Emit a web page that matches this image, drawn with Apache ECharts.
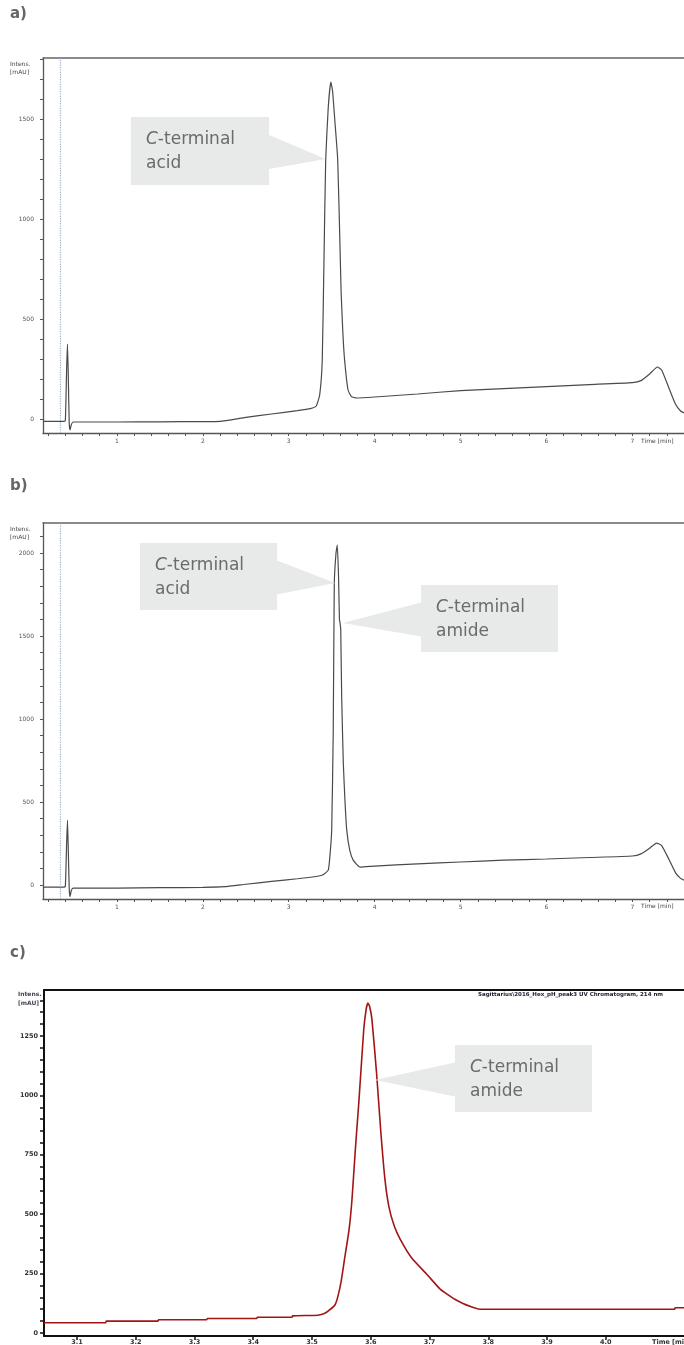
<!DOCTYPE html>
<html>
<head>
<meta charset="utf-8">
<script src="https://cdn.jsdelivr.net/npm/echarts@6/dist/echarts.min.js"></script>
<style>
html, body { margin: 0; padding: 0; background: #fff; }
#chart { width: 684px; height: 1345px; }
</style>
</head>
<body>
<div id="chart"></div>
<script>
// chromatogram a) [time min, intensity]
const traceA = [
    [0.14, -12], [0.38, -12], [0.40, -8], [0.415, 250], [0.425, 375], [0.435, 200], [0.445, -20],
    [0.455, -55], [0.47, -28], [0.49, -15], [1.0, -15], [1.5, -14], [2.0, -13], [2.2, -12],
    [2.5, 8], [2.8, 25], [3.1, 42], [3.25, 52], [3.32, 65], [3.36, 120], [3.39, 295], [3.41, 795],
    [3.43, 1295], [3.46, 1560], [3.49, 1685], [3.51, 1640], [3.535, 1500], [3.57, 1295], [3.60, 800],
    [3.61, 630], [3.63, 430], [3.65, 295], [3.69, 145], [3.73, 112], [3.79, 105], [4.0, 110],
    [4.5, 125], [5.0, 142], [5.5, 152], [6.0, 162], [6.5, 172], [7.0, 182], [7.1, 192], [7.2, 225],
    [7.29, 260], [7.34, 245], [7.42, 160], [7.5, 75], [7.56, 40], [7.6, 30]
]
// chromatogram b)
const traceB = [
    [0.14, -12], [0.38, -12], [0.40, -8], [0.415, 250], [0.425, 390], [0.435, 200], [0.445, -20],
    [0.455, -70], [0.47, -32], [0.49, -18], [1.0, -18], [1.5, -16], [2.0, -14], [2.25, -10],
    [2.5, 5], [2.8, 22], [3.1, 38], [3.3, 50], [3.40, 62], [3.46, 90], [3.48, 180], [3.50, 331],
    [3.518, 934], [3.53, 1817], [3.55, 2000], [3.565, 2048], [3.58, 1850], [3.59, 1600], [3.597, 1580],
    [3.605, 1540], [3.616, 1134], [3.635, 735], [3.655, 500], [3.675, 331], [3.71, 210], [3.75, 150],
    [3.83, 108], [4.0, 114], [4.5, 128], [5.0, 139], [5.5, 150], [6.0, 157], [6.5, 166], [7.0, 175],
    [7.1, 188], [7.2, 222], [7.28, 253], [7.34, 238], [7.42, 160], [7.5, 75], [7.56, 40], [7.6, 30]
]
// chromatogram c) zoom on the main peak
const traceC = [
    [3.044, 43], [3.149, 43], [3.150, 50], [3.238, 50], [3.239, 56], [3.321, 56], [3.322, 61],
    [3.406, 61], [3.407, 66], [3.466, 66], [3.467, 72], [3.51, 75], [3.522, 83], [3.530, 97],
    [3.539, 118], [3.544, 153], [3.550, 223], [3.556, 321], [3.563, 433], [3.568, 560], [3.574, 780],
    [3.580, 981], [3.588, 1275], [3.592, 1360], [3.595, 1389], [3.598, 1375], [3.602, 1320],
    [3.610, 1090], [3.617, 850], [3.624, 650], [3.631, 530], [3.640, 450], [3.650, 395], [3.669, 318],
    [3.698, 240], [3.718, 185], [3.746, 138], [3.771, 110], [3.786, 100], [4.117, 100], [4.118, 106],
    [4.133, 106]
]
const injectionTime = 0.34
const xLabelsAB = [1, 2, 3, 4, 5, 6, 7]
const yLabelsA = [0, 500, 1000, 1500]
const yLabelsB = [0, 500, 1000, 1500, 2000]
const xLabelsC = [3.1, 3.2, 3.3, 3.4, 3.5, 3.6, 3.7, 3.8, 3.9, 4.0]
const yLabelsC = [0, 250, 500, 750, 1000, 1250]
// where each callout points to: [grid, time, intensity]
const calloutAnchors = [[0, 3.43, 1300], [1, 3.54, 1819], [1, 3.63, 1578], [2, 3.607, 1065]]
const calloutWords = ['acid', 'acid', 'amide', 'amide']

function steps(from, to, step) {
    const out = []
    for (let v = from; v <= to + 1e-9; v += step) out.push(Math.round(v * 1000) / 1000)
    return out
}

const chart = echarts.init(document.getElementById('chart'), null, { renderer: 'canvas' })

const grayAxis = { show: true, onZero: false, lineStyle: { color: '#555', width: 1.3 } }
const smallLabel = { fontSize: 6, color: '#555', fontFamily: 'DejaVu Sans', formatter: v => String(v) }

function abAxes(gi, ymin, ymax, ylabels, ytop) {
    return {
        x: [{
            type: 'value', gridIndex: gi, min: 0.14, max: 7.6,
            axisLine: grayAxis, splitLine: { show: false },
            axisTick: { show: true, length: 3, customValues: steps(0.2, 7.4, 0.2), lineStyle: { color: '#555' } },
            axisLabel: Object.assign({ customValues: xLabelsAB, margin: 5 }, smallLabel),
        }, {
            type: 'value', gridIndex: gi, position: 'top', min: 0.14, max: 7.6,
            axisLine: { show: true, onZero: false, lineStyle: { color: '#666', width: 1.5 } },
            axisTick: { show: false }, axisLabel: { show: false }, splitLine: { show: false },
        }],
        y: {
            type: 'value', gridIndex: gi, min: ymin, max: ymax,
            axisLine: grayAxis, splitLine: { show: false },
            axisTick: { show: true, length: 3, customValues: steps(0, ytop, 100), lineStyle: { color: '#555' } },
            axisLabel: Object.assign({ customValues: ylabels, margin: 9 }, smallLabel),
        },
    }
}
const axA = abAxes(0, -70, 1805, yLabelsA, 1800)
const axB = abAxes(1, -84, 2181, yLabelsB, 2100)

const blackAxis = { show: true, onZero: false, lineStyle: { color: '#111', width: 2 } }
const cLabel = { fontSize: 6.5, color: '#333', fontFamily: 'DejaVu Sans', fontWeight: 'bold' }

const injectLine = {
    symbol: 'none', silent: true, label: { show: false },
    lineStyle: { color: '#9fb0c8', type: 'dotted', width: 1.2 },
    data: [{ xAxis: injectionTime }],
}

chart.setOption({
    animation: false,
    grid: [
        { left: 43, top: 58, width: 641, height: 375, outerBoundsMode: 'none' },
        { left: 43, top: 523, width: 641, height: 376, outerBoundsMode: 'none' },
        { left: 44, top: 990, width: 640, height: 346, outerBoundsMode: 'none' },
    ],
    xAxis: [
        ...axA.x, ...axB.x,
        {
            type: 'value', gridIndex: 2, min: 3.044, max: 4.133,
            axisLine: blackAxis, splitLine: { show: false },
            axisTick: { show: true, length: 4, customValues: xLabelsC, lineStyle: { color: '#111', width: 1.5 } },
            axisLabel: Object.assign({ customValues: xLabelsC, margin: 3, formatter: v => v.toFixed(1) }, cLabel),
        },
        {
            type: 'value', gridIndex: 2, position: 'top', min: 3.044, max: 4.133,
            axisLine: blackAxis, axisTick: { show: false }, axisLabel: { show: false }, splitLine: { show: false },
        },
    ],
    yAxis: [
        axA.y, axB.y,
        {
            type: 'value', gridIndex: 2, min: -12.6, max: 1443.6,
            axisLine: blackAxis, splitLine: { show: false },
            axisTick: { show: true, length: 4, customValues: steps(0, 1400, 50), lineStyle: { color: '#111', width: 1.5 } },
            axisLabel: Object.assign({ customValues: yLabelsC, margin: 6, formatter: v => String(v) }, cLabel),
        },
    ],
    series: [
        {
            type: 'line', xAxisIndex: 0, yAxisIndex: 0, data: traceA, showSymbol: false, smooth: 0.15,
            lineStyle: { color: '#4a4a4a', width: 1.2 }, markLine: injectLine,
        },
        {
            type: 'line', xAxisIndex: 2, yAxisIndex: 1, data: traceB, showSymbol: false, smooth: 0.15,
            lineStyle: { color: '#4a4a4a', width: 1.2 }, markLine: injectLine,
        },
        {
            type: 'line', xAxisIndex: 4, yAxisIndex: 2, data: traceC, showSymbol: false, smooth: 0.15,
            lineStyle: { color: '#a31515', width: 1.6 },
        },
    ],
})

// boxes of the callouts, pixels: [left, top, width, height]
const boxes = [[131, 117, 138, 68], [140, 543, 137, 67], [421, 585, 137, 67], [455, 1045, 137, 67]]
const graphics = []

boxes.forEach((b, i) => {
    const [g, t, v] = calloutAnchors[i]
    const tip = chart.convertToPixel({ gridIndex: g }, [t, v])
    const [x, y, w, h] = b
    const toRight = tip[0] > x + w
    const edge = toRight ? x + w : x
    const cy = y + h / 2
    graphics.push({
        type: 'polygon', z: 10,
        shape: { points: [[edge, cy - 16], [edge, cy + 18], tip] },
        style: { fill: '#e8e9e9' },
    })
    graphics.push({
        type: 'rect', z: 11, shape: { x, y, width: w, height: h },
        style: { fill: '#e8e9e9' },
    })
    graphics.push({
        type: 'text', z: 12, x: x + 15, y: y + 11,
        style: {
            text: '{i|C}-terminal\n' + calloutWords[i],
            fill: '#6b6b6b', font: '17px "DejaVu Sans"', lineHeight: 24,
            rich: { i: { fontStyle: 'italic', fontSize: 17, fill: '#6b6b6b', fontFamily: 'DejaVu Sans' } },
        },
    })
})

const panelFont = 'bold 15px "DejaVu Sans"'
graphics.push(
    { type: 'text', x: 10, y: 7, style: { text: 'a)', font: panelFont, fill: '#666' } },
    { type: 'text', x: 10, y: 479, style: { text: 'b)', font: panelFont, fill: '#666' } },
    { type: 'text', x: 10, y: 946, style: { text: 'c)', font: panelFont, fill: '#666' } },
    { type: 'text', x: 10, y: 60, style: { text: 'Intens.\n[mAU]', font: '6px "DejaVu Sans"', fill: '#444', lineHeight: 8 } },
    { type: 'text', x: 10, y: 525, style: { text: 'Intens.\n[mAU]', font: '6px "DejaVu Sans"', fill: '#444', lineHeight: 8 } },
    { type: 'text', x: 18, y: 990, style: { text: 'Intens.\n[mAU]', font: 'bold 6px "DejaVu Sans"', fill: '#445', lineHeight: 9 } },
    { type: 'text', x: 641, y: 438, style: { text: 'Time [min]', font: '6px "DejaVu Sans"', fill: '#444' } },
    { type: 'text', x: 641, y: 903, style: { text: 'Time [min]', font: '6px "DejaVu Sans"', fill: '#444' } },
    { type: 'text', x: 652, y: 1339, style: { text: 'Time [min]', font: 'bold 6.5px "DejaVu Sans"', fill: '#333' } },
    { type: 'text', x: 478, y: 992, style: { text: 'Sagittarius\\2016_Hex_pH_peak3 UV Chromatogram, 214 nm', font: 'bold 5.5px "DejaVu Sans"', fill: '#223' } }
)

chart.setOption({ graphic: graphics })
</script>
</body>
</html>
